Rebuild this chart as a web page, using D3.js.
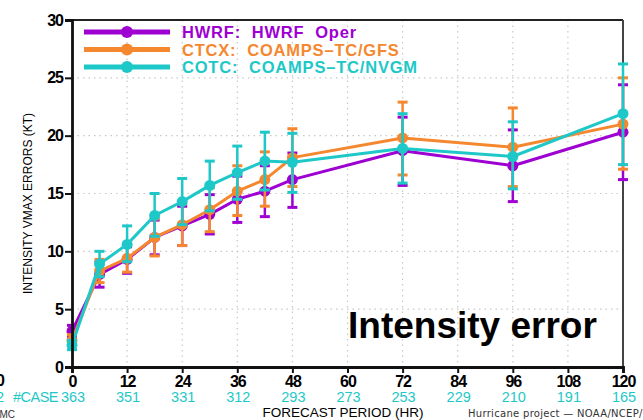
<!DOCTYPE html>
<html>
<head>
<meta charset="utf-8">
<script src="https://cdn.jsdelivr.net/npm/d3@7"></script>
<style>
  html, body { margin: 0; padding: 0; background: #fff; }
  svg { display: block; }
</style>
</head>
<body>
<svg id="chart" width="643" height="420"></svg>
<script>
// Forecast lead times (h) and mean intensity errors (kt) with error-bar bounds
const hours = [0, 6, 12, 18, 24, 30, 36, 42, 48, 72, 96, 120];

const hwrf   = [3.1, 8.0, 9.3, 11.2, 12.2, 13.2, 14.5, 15.2, 16.2, 18.7, 17.4, 20.3];
const hwrfLo = [2.6, 6.9, 8.1, 9.7, 10.5, 11.5, 12.5, 13.0, 13.8, 15.7, 14.3, 16.2];
const hwrfHi = [3.6, 9.1, 10.4, 12.7, 13.9, 14.9, 16.5, 17.4, 18.5, 21.6, 20.5, 24.4];

const ctcx   = [2.3, 8.3, 9.4, 11.2, 12.3, 13.6, 15.2, 16.2, 18.1, 19.8, 19.0, 21.0];
const ctcxLo = [1.9, 7.3, 8.2, 9.6, 10.5, 11.7, 13.1, 13.9, 15.6, 16.6, 15.6, 17.1];
const ctcxHi = [2.8, 9.3, 10.6, 12.8, 14.1, 15.5, 17.4, 18.6, 20.6, 22.9, 22.4, 25.0];

const cotc   = [1.9, 8.9, 10.6, 13.1, 14.3, 15.7, 16.8, 17.8, 17.7, 18.9, 18.2, 21.9];
const cotcLo = [1.5, 7.8, 9.1, 11.3, 12.3, 13.5, 14.5, 15.3, 15.1, 15.9, 15.4, 17.5];
const cotcHi = [2.3, 10.0, 12.2, 15.0, 16.3, 17.8, 19.1, 20.3, 20.2, 21.9, 21.2, 26.2];

const seriesNames  = ["HWRF:  HWRF  Oper", "CTCX:  COAMPS\u2013TC/GFS", "COTC:  COAMPS\u2013TC/NVGM"];
const seriesColors = ["#9e00d2", "#f5882f", "#1ec8c8"];

const xTicks = [0, 12, 24, 36, 48, 60, 72, 84, 96, 108, 120];
const yTicks = [0, 5, 10, 15, 20, 25, 30];
const caseCounts = [363, 351, 331, 312, 293, 273, 253, 229, 210, 191, 165];

const series = [
  { name: seriesNames[0], color: seriesColors[0], mean: hwrf, lo: hwrfLo, hi: hwrfHi },
  { name: seriesNames[1], color: seriesColors[1], mean: ctcx, lo: ctcxLo, hi: ctcxHi },
  { name: seriesNames[2], color: seriesColors[2], mean: cotc, lo: cotcLo, hi: cotcHi }
];

const svg = d3.select("#chart");
const plot = { left: 72, right: 623, top: 20, bottom: 367 };

const x = d3.scaleLinear().domain([0, 120]).range([plot.left, plot.right]);
const y = d3.scaleLinear().domain([0, 30]).range([plot.bottom, plot.top]);

svg.append("rect").attr("width", 643).attr("height", 420).attr("fill", "#fff");

// dotted grid
const grid = svg.append("g").attr("stroke", "#c8c8c8").attr("stroke-width", 1.2)
  .attr("stroke-dasharray", "1.5,4");
xTicks.slice(1, -1).forEach(t => {
  grid.append("line").attr("x1", x(t)).attr("x2", x(t))
    .attr("y1", plot.top).attr("y2", plot.bottom);
});
yTicks.slice(1, -1).forEach(t => {
  grid.append("line").attr("x1", plot.left).attr("x2", plot.right)
    .attr("y1", y(t)).attr("y2", y(t));
});

// frame: top and right edges
svg.append("line").attr("x1", plot.left).attr("x2", plot.right)
  .attr("y1", plot.top).attr("y2", plot.top)
  .attr("stroke", "#222").attr("stroke-width", 2);
svg.append("line").attr("x1", plot.right).attr("x2", plot.right)
  .attr("y1", plot.top).attr("y2", plot.bottom)
  .attr("stroke", "#444").attr("stroke-width", 2);

// series: lines, error bars, markers
const line = d3.line().x((d, i) => x(hours[i])).y(d => y(d));
series.forEach(s => {
  const g = svg.append("g");
  g.append("path").datum(s.mean).attr("d", line)
    .attr("fill", "none").attr("stroke", s.color).attr("stroke-width", 3)
    .attr("stroke-linejoin", "round");
  hours.forEach((h, i) => {
    const cx = x(h);
    g.append("line").attr("x1", cx).attr("x2", cx)
      .attr("y1", y(s.lo[i])).attr("y2", y(s.hi[i]))
      .attr("stroke", s.color).attr("stroke-width", 2.5);
    [s.lo[i], s.hi[i]].forEach(v => {
      g.append("line").attr("x1", cx - 5).attr("x2", cx + 5)
        .attr("y1", y(v)).attr("y2", y(v))
        .attr("stroke", s.color).attr("stroke-width", 3);
    });
    g.append("circle").attr("cx", cx).attr("cy", y(s.mean[i])).attr("r", 5.5)
      .attr("fill", s.color);
  });
});

// left and bottom axes
const axisFont = "'Liberation Sans', Arial, sans-serif";
const yAxis = svg.append("g").attr("transform", `translate(${plot.left},0)`)
  .call(d3.axisLeft(y).tickValues(yTicks).tickSize(7).tickPadding(2).tickFormat(d3.format("d")));
const xAxis = svg.append("g").attr("transform", `translate(0,${plot.bottom})`)
  .call(d3.axisBottom(x).tickValues(xTicks).tickSize(6).tickPadding(3).tickFormat(d3.format("d")));
[yAxis, xAxis].forEach(a => {
  a.select(".domain").attr("stroke", "#111").attr("stroke-width", 2.8);
  a.selectAll(".tick line").attr("stroke", "#111").attr("stroke-width", 2);
  a.selectAll(".tick text").attr("fill", "#000")
    .style("font-family", axisFont).style("font-weight", "bold")
    .style("font-size", "16px").attr("letter-spacing", "-1");
});

// case counts row
svg.append("text").attr("x", 58).attr("y", 402).attr("text-anchor", "end")
  .attr("fill", seriesColors[2]).style("font-family", axisFont)
  .style("font-size", "14.5px").attr("letter-spacing", "-0.5").text("#CASE");
caseCounts.forEach((c, i) => {
  svg.append("text").attr("x", x(xTicks[i]) + 1).attr("y", 402).attr("text-anchor", "middle")
    .attr("fill", seriesColors[2]).style("font-family", axisFont)
    .style("font-size", "14.5px").text(c);
});

// fragments of neighbouring panel at the left edge
svg.append("text").attr("x", 5).attr("y", 386).attr("text-anchor", "end")
  .style("font-family", axisFont).style("font-weight", "bold").style("font-size", "16px").text("0");
svg.append("text").attr("x", 4).attr("y", 402).attr("text-anchor", "end")
  .attr("fill", seriesColors[2]).style("font-family", axisFont).style("font-size", "14.5px").text("2");
svg.append("text").attr("x", 15).attr("y", 418).attr("text-anchor", "end")
  .attr("fill", "#333").style("font-family", axisFont).style("font-size", "10px").text("NOAA/NCEP/EMC");

// axis titles
svg.append("text").attr("x", 343).attr("y", 417).attr("text-anchor", "middle")
  .style("font-family", axisFont).style("font-size", "13.5px").text("FORECAST PERIOD (HR)");
svg.append("text").attr("transform", `translate(32,${(plot.top + plot.bottom) / 2 + 10}) rotate(-90)`)
  .attr("text-anchor", "middle").style("font-family", axisFont).style("font-size", "12px")
  .text("INTENSITY VMAX ERRORS (KT)");
svg.append("text").attr("x", 468).attr("y", 417)
  .attr("fill", "#333").style("font-family", "'DejaVu Sans', sans-serif").style("font-size", "10px")
  .attr("letter-spacing", "0.3")
  .text("Hurricane project \u2014 NOAA/NCEP/EMC");

// legend
const legend = svg.append("g");
series.forEach((s, i) => {
  const ly = 32 + i * 17.5;
  legend.append("line").attr("x1", 84).attr("x2", 170).attr("y1", ly).attr("y2", ly)
    .attr("stroke", s.color).attr("stroke-width", 5);
  legend.append("circle").attr("cx", 127).attr("cy", ly).attr("r", 6).attr("fill", s.color);
  legend.append("text").attr("x", 182).attr("y", ly + 6).attr("fill", s.color)
    .style("font-family", axisFont).style("font-weight", "bold").style("font-size", "16.5px")
    .attr("letter-spacing", "0.8")
    .attr("xml:space", "preserve")
    .text(s.name);
});

// panel title
svg.append("text").attr("x", 348).attr("y", 338)
  .style("font-family", "'Liberation Sans', Arial, sans-serif").style("font-weight", "bold")
  .style("font-size", "37px").text("Intensity error");
</script>
</body>
</html>
